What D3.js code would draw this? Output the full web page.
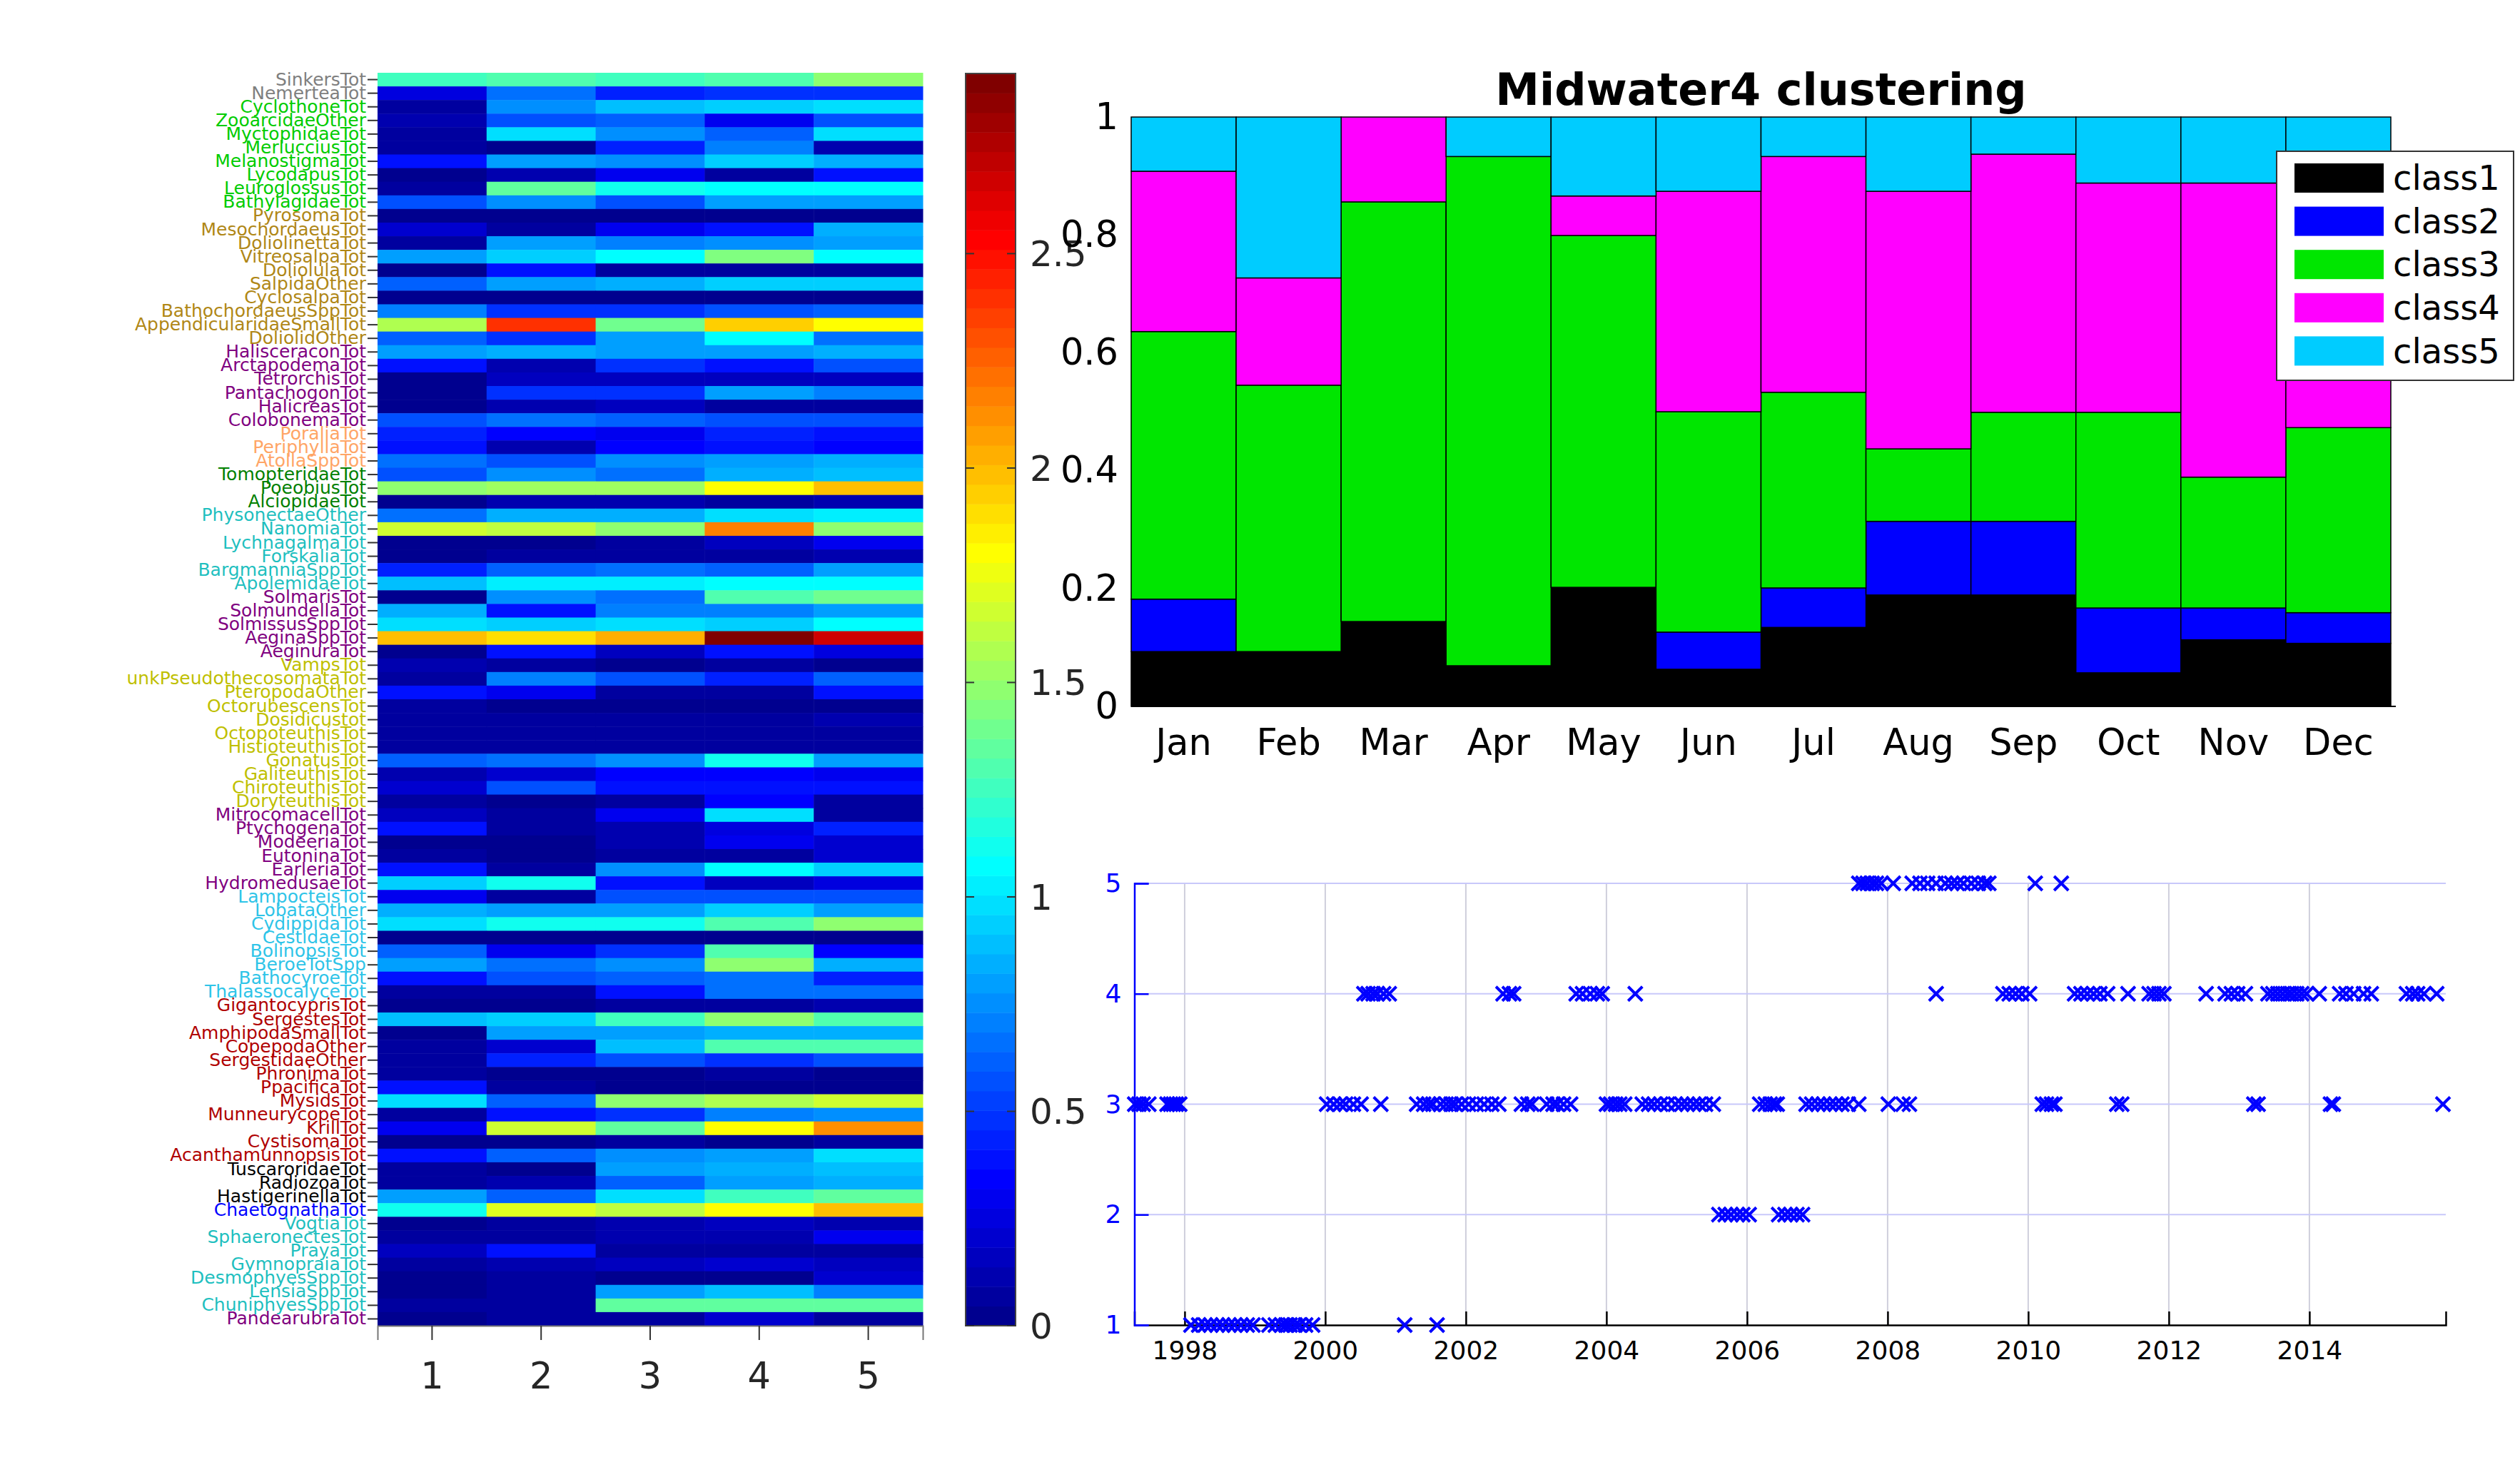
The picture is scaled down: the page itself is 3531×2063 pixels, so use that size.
<!DOCTYPE html>
<html>
<head>
<meta charset="utf-8">
<script src="https://cdn.jsdelivr.net/npm/d3@7"></script>
<style>
  body { margin: 0; background: #fff; }
  text { font-family: "DejaVu Sans", sans-serif; }
</style>
</head>
<body>
<svg id="fig"></svg>
<script>

// ---------------- DATA ----------------

// heatmap rows (top to bottom) and their taxon group
var taxa = ["SinkersTot","NemerteaTot","CyclothoneTot","ZooarcidaeOther","MyctophidaeTot","MerlucciusTot",
  "MelanostigmaTot","LycodapusTot","LeuroglossusTot","BathylagidaeTot","PyrosomaTot","MesochordaeusTot",
  "DoliolinettaTot","VitreosalpaTot","DoliolulaTot","SalpidaOther","CyclosalpaTot","BathochordaeusSppTot",
  "AppendicularidaeSmallTot","DoliolidOther","HalisceraconTot","ArctapodemaTot","TetrorchisTot","PantachogonTot",
  "HalicreasTot","ColobonemaTot","PoraliaTot","PeriphyllaTot","AtollaSppTot","TomopteridaeTot","PoeobiusTot",
  "AlciopidaeTot","PhysonectaeOther","NanomiaTot","LychnagalmaTot","ForskaliaTot","BargmanniaSppTot",
  "ApolemidaeTot","SolmarisTot","SolmundellaTot","SolmissusSppTot","AeginaSppTot","AeginuraTot","VampsTot",
  "unkPseudothecosomataTot","PteropodaOther","OctorubescensTot","Dosidicustot","OctopoteuthisTot",
  "HistioteuthisTot","GonatusTot","GaliteuthisTot","ChiroteuthisTot","DoryteuthisTot","MitrocomacellTot",
  "PtychogenaTot","ModeeriaTot","EutoninaTot","EarleriaTot","HydromedusaeTot","LampocteisTot","LobataOther",
  "CydippidaTot","CestidaeTot","BolinopsisTot","BeroeTotSpp","BathocyroeTot","ThalassocalyceTot",
  "GigantocyprisTot","SergestesTot","AmphipodaSmallTot","CopepodaOther","SergestidaeOther","PhronimaTot",
  "PpacificaTot","MysidsTot","MunneurycopeTot","KrillTot","CystisomaTot","AcanthamunnopsisTot",
  "TuscaroridaeTot","RadiozoaTot","HastigerinellaTot","ChaetognathaTot","VogtiaTot","SphaeronectesTot",
  "PrayaTot","GymnopraiaTot","DesmophyesSppTot","LensiaSppTot","ChuniphyesSppTot","PandearubraTot"];

var taxaGroup = ["misc","misc","fish","fish","fish","fish","fish","fish","fish","fish",
  "tunicate","tunicate","tunicate","tunicate","tunicate","tunicate","tunicate","tunicate","tunicate","tunicate",
  "medusa","medusa","medusa","medusa","medusa","medusa","scypho","scypho","scypho","worm","worm","worm",
  "siph","siph","siph","siph","siph","siph","medusa","medusa","medusa","medusa","medusa",
  "mollusc","mollusc","mollusc","mollusc","mollusc","mollusc","mollusc","mollusc","mollusc","mollusc","mollusc",
  "medusa","medusa","medusa","medusa","medusa","medusa","cteno","cteno","cteno","cteno","cteno","cteno","cteno","cteno",
  "crust","crust","crust","crust","crust","crust","crust","crust","crust","crust","crust","crust",
  "protist","protist","protist","chaeto","siph","siph","siph","siph","siph","siph","siph","medusa"];

var clusters = [1, 2, 3, 4, 5];

// mean abundance per taxon for clusters 1..5
var heatValues = [
  [1.27,1.28,1.24,1.30,1.50],[0.25,0.65,0.45,0.50,0.50],[0.05,0.75,0.90,0.95,0.97],[0.10,0.55,0.60,0.30,0.55],
  [0.05,0.98,0.75,0.60,0.98],[0.05,0.00,0.45,0.70,0.12],[0.37,0.80,0.75,0.92,0.85],[0.03,0.12,0.28,0.06,0.40],
  [0.06,1.35,1.10,1.08,1.06],[0.55,0.75,0.55,0.80,0.80],[0.04,0.04,0.01,0.04,0.01],[0.22,0.07,0.28,0.40,0.85],
  [0.09,0.80,0.70,0.75,0.82],[0.80,0.94,1.06,1.42,1.06],[0.03,0.40,0.07,0.07,0.06],[0.60,0.80,0.83,0.92,0.94],
  [0.03,0.03,0.02,0.03,0.03],[0.70,0.50,0.50,0.55,0.60],[1.58,2.40,1.40,1.95,1.79],[0.60,0.50,0.80,1.06,0.65],
  [0.80,0.85,0.78,0.78,0.85],[0.37,0.10,0.50,0.40,0.55],[0.04,0.17,0.14,0.14,0.17],[0.04,0.50,0.50,0.78,0.70],
  [0.04,0.10,0.17,0.06,0.07],[0.55,0.65,0.60,0.55,0.55],[0.45,0.33,0.28,0.45,0.38],[0.40,0.12,0.33,0.40,0.35],
  [0.65,0.55,0.75,0.80,0.83],[0.55,0.75,0.65,0.83,0.87],[1.46,1.55,1.55,1.82,1.98],[0.04,0.12,0.12,0.07,0.10],
  [0.65,0.85,0.85,0.98,1.02],[1.66,1.62,1.48,2.17,1.48],[0.04,0.02,0.09,0.17,0.30],[0.04,0.09,0.09,0.07,0.12],
  [0.45,0.60,0.65,0.60,0.80],[0.87,1.02,1.02,1.08,1.06],[0.04,0.75,0.65,1.30,1.37],[0.85,0.40,0.70,0.70,0.78],
  [0.98,0.92,0.98,0.94,1.06],[1.98,1.90,2.05,2.92,2.65],[0.04,0.40,0.17,0.40,0.25],[0.10,0.07,0.04,0.06,0.03],
  [0.09,0.70,0.55,0.45,0.60],[0.40,0.28,0.06,0.07,0.40],[0.06,0.04,0.03,0.04,0.01],[0.07,0.09,0.07,0.09,0.10],
  [0.06,0.09,0.06,0.07,0.06],[0.06,0.06,0.06,0.06,0.05],[0.60,0.65,0.75,1.10,0.82],[0.10,0.20,0.33,0.33,0.28],
  [0.22,0.55,0.37,0.37,0.40],[0.06,0.03,0.07,0.35,0.07],[0.15,0.06,0.30,0.98,0.09],[0.37,0.06,0.12,0.25,0.45],
  [0.04,0.01,0.12,0.30,0.22],[0.09,0.03,0.09,0.07,0.20],[0.40,0.06,0.75,1.06,0.94],[0.94,1.10,0.40,0.15,0.25],
  [0.28,0.09,0.55,0.55,0.55],[0.83,0.80,0.80,0.92,0.80],[0.98,1.14,1.10,1.28,1.46],[0.04,0.04,0.02,0.02,0.04],
  [0.60,0.28,0.50,1.28,0.33],[0.82,0.65,0.75,1.48,0.85],[0.40,0.55,0.60,0.65,0.45],[0.09,0.07,0.40,0.65,0.65],
  [0.01,0.02,0.07,0.06,0.10],[0.90,0.94,1.24,1.50,1.28],[0.04,0.80,0.80,0.85,0.83],[0.09,0.20,0.90,1.28,1.28],
  [0.06,0.45,0.55,0.50,0.55],[0.06,0.02,0.04,0.09,0.04],[0.40,0.07,0.02,0.02,0.02],[0.98,0.60,1.50,1.58,1.68],
  [0.06,0.37,0.50,0.70,0.75],[0.28,1.68,1.35,1.82,2.10],[0.04,0.04,0.07,0.04,0.07],[0.40,0.60,0.75,0.80,1.00],
  [0.07,0.01,0.80,0.85,0.87],[0.07,0.10,0.60,0.80,0.83],[0.80,0.60,1.00,1.24,1.35],[1.10,1.70,1.64,1.82,2.00],
  [0.04,0.07,0.10,0.14,0.10],[0.06,0.07,0.10,0.12,0.30],[0.14,0.40,0.07,0.07,0.06],[0.06,0.12,0.17,0.20,0.15],
  [0.04,0.07,0.04,0.02,0.20],[0.04,0.07,0.80,0.90,0.70],[0.09,0.07,1.33,1.33,1.35],[0.04,0.06,0.07,0.22,0.09]
];

var colorMax = 2.92;
var colorbarTicks = [0, 0.5, 1, 1.5, 2, 2.5];

// monthly fraction of samples in each class
var months = ["Jan","Feb","Mar","Apr","May","Jun","Jul","Aug","Sep","Oct","Nov","Dec"];
var classNames = ["class1","class2","class3","class4","class5"];
var class1Frac = [0.093,0.093,0.144,0.069,0.202,0.063,0.134,0.189,0.189,0.057,0.113,0.107];
var class2Frac = [0.089,0.000,0.000,0.000,0.000,0.063,0.067,0.125,0.125,0.110,0.054,0.052];
var class3Frac = [0.454,0.452,0.712,0.864,0.597,0.374,0.332,0.123,0.185,0.332,0.222,0.314];
var class4Frac = [0.272,0.182,0.144,0.000,0.067,0.374,0.400,0.437,0.438,0.389,0.499,0.427];
var class5Frac = [0.092,0.273,0.000,0.067,0.134,0.126,0.067,0.126,0.063,0.112,0.112,0.100];
var barTicks = [0, 0.2, 0.4, 0.6, 0.8, 1];

// sample dates (decimal years) assigned to each class
var class1Dates = [1998.09,1998.20,1998.29,1998.37,1998.46,1998.54,1998.63,1998.71,1998.80,1998.89,1998.97,
  1999.20,1999.29,1999.38,1999.44,1999.50,1999.57,1999.63,1999.72,1999.82,2001.13,2001.59];
var class2Dates = [2005.60,2005.69,2005.77,2005.86,2005.94,2006.03,2006.45,2006.54,2006.62,2006.71,2006.79];
var class3Dates = [1997.29,1997.35,1997.41,1997.49,1997.75,1997.80,1997.84,1997.88,1997.93,
  2000.02,2000.12,2000.21,2000.29,2000.40,2000.51,2000.79,2001.30,2001.40,2001.47,2001.53,2001.64,2001.72,
  2001.79,2001.85,2001.94,2002.04,2002.15,2002.26,2002.37,2002.47,2002.79,2002.88,2002.94,2003.15,2003.24,
  2003.30,2003.39,2003.49,2004.00,2004.06,2004.13,2004.19,2004.26,2004.51,2004.60,2004.68,2004.77,2004.87,
  2004.98,2005.07,2005.15,2005.24,2005.32,2005.41,2005.52,2006.18,2006.26,2006.33,2006.39,2006.43,2006.84,
  2006.92,2007.01,2007.09,2007.18,2007.26,2007.35,2007.44,2007.59,2008.01,2008.22,2008.31,2010.20,2010.26,
  2010.33,2010.38,2011.26,2011.33,2013.21,2013.27,2014.30,2014.34,2015.90];
var class4Dates = [2000.55,2000.61,2000.68,2000.74,2000.83,2000.91,2002.53,2002.62,2002.68,2003.57,2003.66,
  2003.77,2003.87,2003.94,2004.41,2008.69,2009.64,2009.73,2009.82,2009.91,2010.02,2010.66,2010.75,2010.84,
  2010.93,2011.02,2011.13,2011.42,2011.72,2011.79,2011.86,2011.93,2012.53,2012.80,2012.89,2012.98,2013.09,
  2013.41,2013.48,2013.55,2013.62,2013.69,2013.75,2013.82,2013.89,2013.96,2014.14,2014.43,2014.52,2014.63,
  2014.77,2014.88,2015.38,2015.47,2015.54,2015.63,2015.81];
var class5Dates = [2007.59,2007.65,2007.71,2007.78,2007.84,2007.91,2008.08,2008.35,2008.46,2008.57,2008.69,
  2008.82,2008.91,2008.99,2009.08,2009.19,2009.29,2009.38,2009.44,2010.10,2010.47];
var yearTicks = [1998, 2000, 2002, 2004, 2006, 2008, 2010, 2012, 2014];
var timeRange = [1997.285, 2015.94];

// ---------------- STYLE ----------------

var groupColor = {
  misc: "#7f7f7f", fish: "#00cc00", tunicate: "#b08716", medusa: "#800080", scypho: "#ffa566",
  worm: "#008000", siph: "#1fbfbf", mollusc: "#bfbf00", cteno: "#2ec4e8", crust: "#b00000",
  protist: "#000000", chaeto: "#0000ff"
};
var classColor = { class1: "#000000", class2: "#0000ff", class3: "#00e600", class4: "#ff00ff", class5: "#00ccff" };
var txt = "#262626";

// matlab jet(m)
function jet(m) {
  var n = Math.ceil(m / 4);
  var u = [];
  for (var i = 1; i <= n; i++) u.push(i / n);
  for (var i = 1; i < n; i++) u.push(1);
  for (var i = n; i >= 1; i--) u.push(i / n);
  var g0 = Math.ceil(n / 2) - (m % 4 == 1 ? 1 : 0);
  var J = d3.range(m).map(function() { return [0, 0, 0]; });
  u.forEach(function(v, k) {
    var g = g0 + k + 1, r = g + n, b = g - n;
    if (r <= m) J[r - 1][0] = v;
    if (g <= m) J[g - 1][1] = v;
    if (b >= 1) J[b - 1][2] = v;
  });
  return J.map(function(c) { return d3.rgb(c[0] * 255, c[1] * 255, c[2] * 255).formatHex(); });
}
var jetColors = jet(64);

var W = 3531, H = 2063;
var svg = d3.select("#fig").attr("width", W).attr("height", H);
svg.append("rect").attr("width", W).attr("height", H).attr("fill", "#fff");

// ---------------- HEATMAP ----------------

var hx = d3.scaleBand().domain(clusters).range([529, 1293]);
var hy = d3.scaleBand().domain(taxa).range([102, 1858]);
var heatColor = d3.scaleQuantize().domain([0, colorMax]).range(jetColors);

var cells = [];
heatValues.forEach(function(row, i) {
  row.forEach(function(v, j) { cells.push({ taxon: taxa[i], cluster: clusters[j], v: v }); });
});

svg.append("g").selectAll("rect")
  .data(cells)
  .enter().append("rect")
  .attr("x", function(d) { return hx(d.cluster); })
  .attr("y", function(d) { return hy(d.taxon); })
  .attr("width", hx.bandwidth() + 0.5)
  .attr("height", hy.bandwidth() + 0.5)
  .attr("fill", function(d) { return heatColor(d.v); });

var hLeft = svg.append("g")
  .attr("transform", "translate(529,0)")
  .call(d3.axisLeft(hy).tickSize(14).tickPadding(2));
hLeft.select(".domain").remove();
hLeft.selectAll("line").attr("stroke", "#333").attr("stroke-width", 2);
hLeft.selectAll("text")
  .attr("font-size", 25)
  .attr("font-family", "DejaVu Sans")
  .attr("fill", function(d, i) { return groupColor[taxaGroup[i]]; });

var hBottom = svg.append("g")
  .attr("transform", "translate(0,1858)")
  .call(d3.axisBottom(hx).tickSize(20).tickPadding(32));
hBottom.select(".domain").attr("stroke", "#777").attr("stroke-width", 2);
hBottom.selectAll("line").attr("stroke", "#333").attr("stroke-width", 2);
hBottom.selectAll("text").attr("font-size", 51).attr("font-family", "DejaVu Sans").attr("fill", txt);

// ---------------- COLORBAR ----------------

var cbX0 = 1353, cbX1 = 1423;
var cbY = d3.scaleLinear().domain([0, colorMax]).range([1858, 103]);
var cbStep = colorMax / jetColors.length;

svg.append("g").selectAll("rect")
  .data(jetColors)
  .enter().append("rect")
  .attr("x", cbX0)
  .attr("width", cbX1 - cbX0)
  .attr("y", function(d, i) { return cbY((i + 1) * cbStep); })
  .attr("height", function(d, i) { return cbY(i * cbStep) - cbY((i + 1) * cbStep) + 0.5; })
  .attr("fill", function(d) { return d; });

svg.append("rect")
  .attr("x", cbX0).attr("y", cbY(colorMax))
  .attr("width", cbX1 - cbX0).attr("height", cbY(0) - cbY(colorMax))
  .attr("fill", "none").attr("stroke", "#444").attr("stroke-width", 2);

var cbT = svg.append("g").selectAll("g").data(colorbarTicks).enter().append("g");
cbT.append("line")
  .attr("x1", cbX0).attr("x2", cbX0 + 12)
  .attr("y1", function(d) { return cbY(d); }).attr("y2", function(d) { return cbY(d); })
  .attr("stroke", "#333").attr("stroke-width", 2);
cbT.append("line")
  .attr("x1", cbX1 - 12).attr("x2", cbX1)
  .attr("y1", function(d) { return cbY(d); }).attr("y2", function(d) { return cbY(d); })
  .attr("stroke", "#333").attr("stroke-width", 2);
cbT.append("text")
  .attr("x", 1443)
  .attr("y", function(d) { return cbY(d); })
  .attr("dy", "0.36em")
  .attr("font-size", 50)
  .attr("fill", txt)
  .text(function(d) { return d; });

// ---------------- STACKED BARS ----------------

var bx = d3.scaleBand().domain(months).range([1585, 3350]);
var by = d3.scaleLinear().domain([0, 1]).range([990, 164]);

var fracs = [class1Frac, class2Frac, class3Frac, class4Frac, class5Frac];
var monthRows = months.map(function(m, i) {
  var r = { month: m };
  classNames.forEach(function(c, k) { r[c] = fracs[k][i]; });
  return r;
});
var series = d3.stack().keys(classNames)(monthRows);

svg.append("g").selectAll("g")
  .data(series)
  .enter().append("g")
  .attr("fill", function(s) { return classColor[s.key]; })
  .selectAll("rect")
  .data(function(s) { return s.filter(function(d) { return d[1] - d[0] > 0; }); })
  .enter().append("rect")
  .attr("x", function(d) { return bx(d.data.month); })
  .attr("width", bx.bandwidth())
  .attr("y", function(d) { return by(d[1]); })
  .attr("height", function(d) { return by(d[0]) - by(d[1]); })
  .attr("stroke", "#000")
  .attr("stroke-width", 1.5);

svg.append("line")
  .attr("x1", 1585).attr("x2", 3357).attr("y1", by(0)).attr("y2", by(0))
  .attr("stroke", "#000").attr("stroke-width", 2);

var bLeft = svg.append("g")
  .attr("transform", "translate(1585,0)")
  .call(d3.axisLeft(by).tickValues(barTicks).tickSize(0).tickPadding(18).tickFormat(d3.format("")));
bLeft.select(".domain").remove();
bLeft.selectAll("text").attr("font-size", 51).attr("font-family", "DejaVu Sans").attr("fill", "#000");

var bBottom = svg.append("g")
  .attr("transform", "translate(0,990)")
  .call(d3.axisBottom(bx).tickSize(0).tickPadding(32));
bBottom.select(".domain").remove();
bBottom.selectAll("text").attr("font-size", 51).attr("font-family", "DejaVu Sans").attr("fill", "#000");

svg.append("text")
  .attr("x", (1585 + 3350) / 2)
  .attr("y", 147)
  .attr("text-anchor", "middle")
  .attr("font-size", 62)
  .attr("font-weight", "bold")
  .attr("fill", "#000")
  .text("Midwater4 clustering");

// legend
var legend = svg.append("g").attr("transform", "translate(3190,212)");
legend.append("rect")
  .attr("width", 332).attr("height", 321)
  .attr("fill", "#fff").attr("stroke", "#333").attr("stroke-width", 2);
var lItem = legend.selectAll(".item").data(classNames).enter().append("g")
  .attr("class", "item")
  .attr("transform", function(d, i) { return "translate(0," + (37 + i * 60.6) + ")"; });
lItem.append("rect")
  .attr("x", 25).attr("y", -20).attr("width", 125).attr("height", 41)
  .attr("fill", function(d) { return classColor[d]; });
lItem.append("text")
  .attr("x", 163).attr("dy", "0.36em")
  .attr("font-size", 48).attr("fill", "#000")
  .text(function(d) { return d; });

// ---------------- CLASS TIME SERIES ----------------

var sx = d3.scaleLinear().domain(timeRange).range([1589.5, 3427]);
var sy = d3.scaleLinear().domain([1, 5]).range([1857, 1238]);

// grid
svg.append("g").selectAll("line").data(yearTicks).enter().append("line")
  .attr("x1", function(d) { return sx(d); }).attr("x2", function(d) { return sx(d); })
  .attr("y1", sy(5)).attr("y2", sy(1))
  .attr("stroke", "#cfcfdc").attr("stroke-width", 2);
svg.append("g").selectAll("line").data([2, 3, 4, 5]).enter().append("line")
  .attr("x1", sx.range()[0]).attr("x2", sx.range()[1])
  .attr("y1", function(d) { return sy(d); }).attr("y2", function(d) { return sy(d); })
  .attr("stroke", "#c8c8fa").attr("stroke-width", 2);

var sBottom = svg.append("g")
  .attr("transform", "translate(0," + sy(1) + ")")
  .call(d3.axisBottom(sx).tickValues(yearTicks).tickSize(-19).tickPadding(22).tickFormat(d3.format("d")));
sBottom.select(".domain").attr("stroke", "#000").attr("stroke-width", 2.5);
sBottom.selectAll("line").attr("stroke", "#000").attr("stroke-width", 2.5);
sBottom.selectAll("text").attr("font-size", 36).attr("font-family", "DejaVu Sans").attr("fill", "#000");

var sLeft = svg.append("g")
  .attr("transform", "translate(1589.5,0)")
  .call(d3.axisLeft(sy).tickValues([1, 2, 3, 4, 5]).tickSize(-20).tickPadding(18).tickFormat(d3.format("d")));
sLeft.select(".domain").attr("stroke", "#0000ff").attr("stroke-width", 2.5);
sLeft.selectAll("line").attr("stroke", "#0000ff").attr("stroke-width", 2.5);
sLeft.selectAll("text").attr("font-size", 36).attr("font-family", "DejaVu Sans").attr("fill", "#0000ff");

var allDates = [class1Dates, class2Dates, class3Dates, class4Dates, class5Dates];
var points = [];
allDates.forEach(function(arr, k) {
  arr.forEach(function(t) { points.push({ t: t, c: k + 1 }); });
});

svg.append("g").selectAll("path")
  .data(points)
  .enter().append("path")
  .attr("transform", function(d) { return "translate(" + sx(d.t) + "," + sy(d.c) + ")"; })
  .attr("d", "M-10,-10L10,10M-10,10L10,-10")
  .attr("stroke", "#0000ff")
  .attr("stroke-width", 4)
  .attr("fill", "none");

</script>
</body>
</html>
